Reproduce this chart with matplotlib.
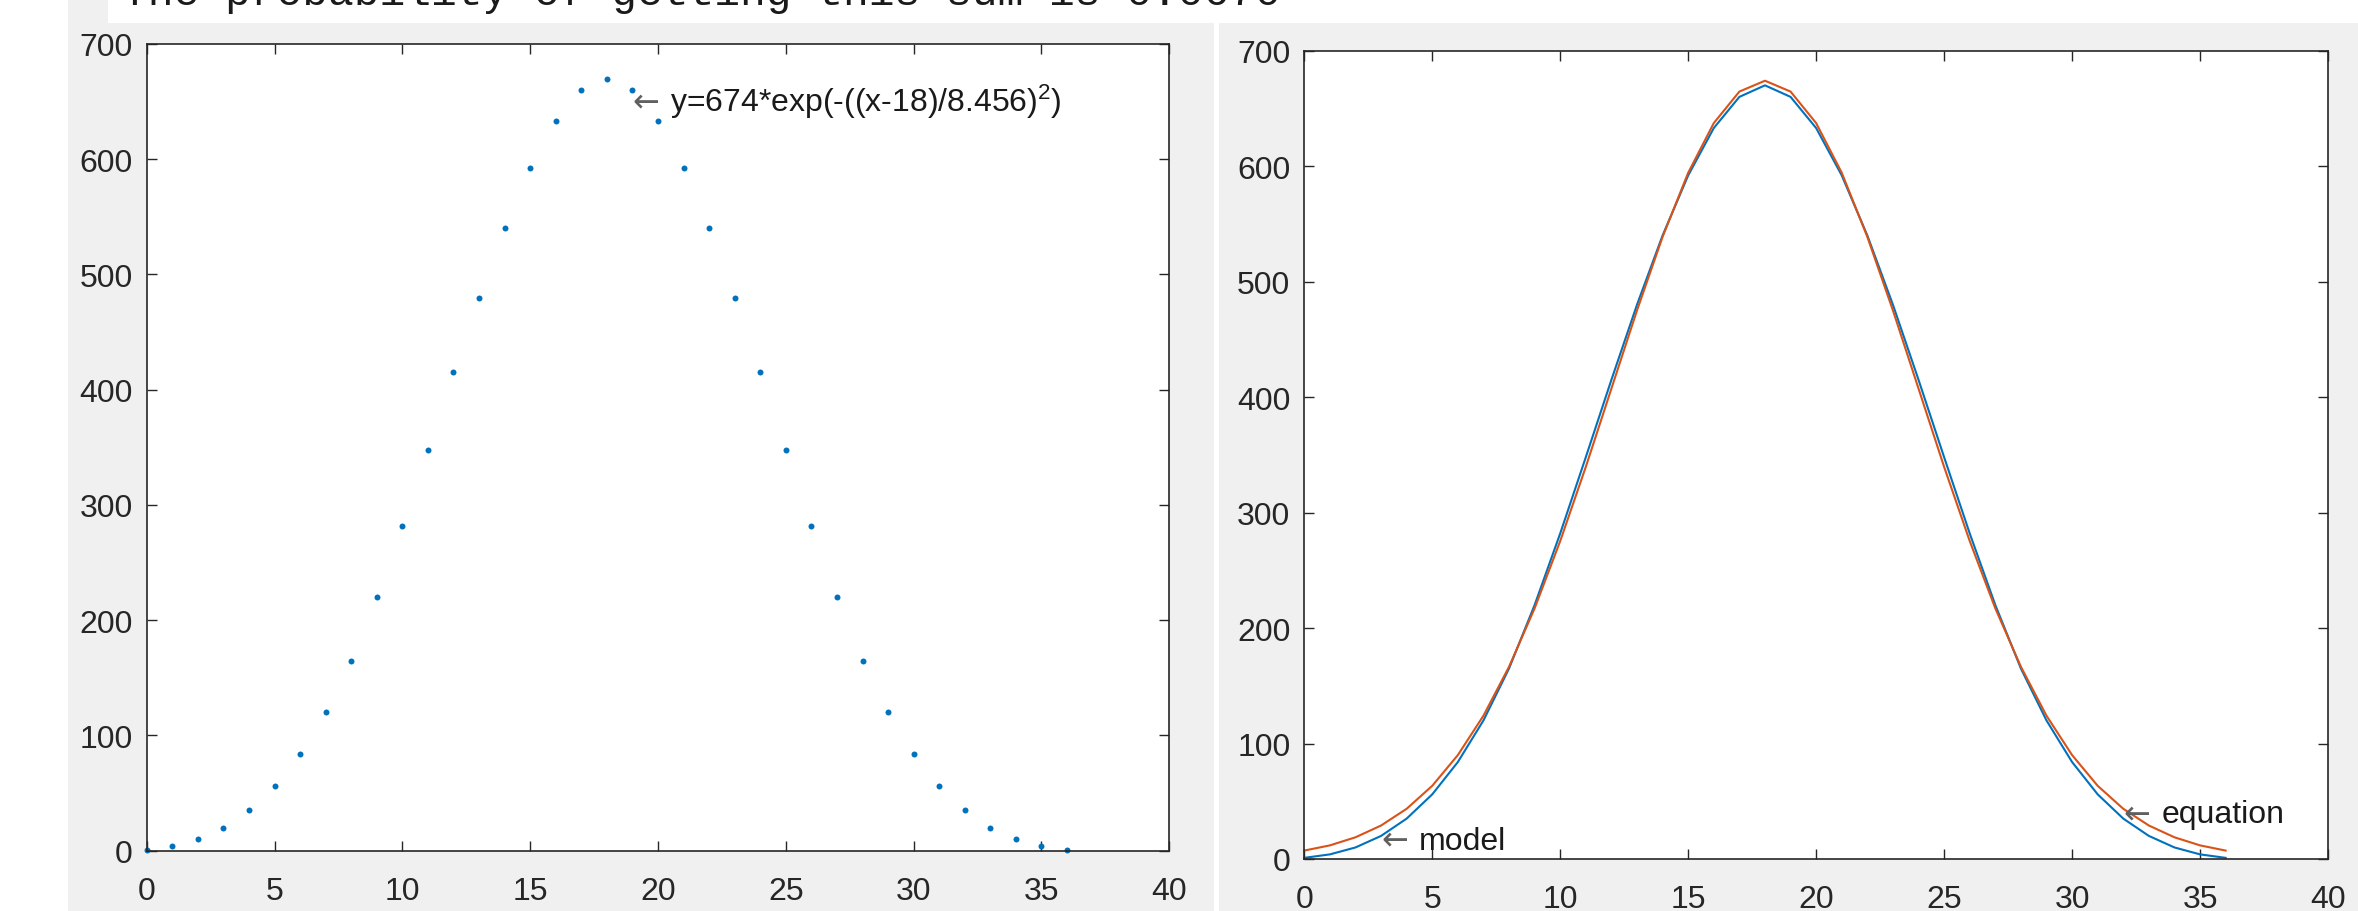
"""Two-panel MATLAB-style figure: digit-sum counts (4 digits) vs gaussian fit."""
import matplotlib

matplotlib.use("Agg")
import matplotlib.pyplot as plt
from matplotlib.patches import Rectangle

plt.rcParams["font.family"] = ["Liberation Sans", "DejaVu Sans"]
plt.rcParams["mathtext.fontset"] = "custom"
plt.rcParams["mathtext.rm"] = "Liberation Sans"

# ways to reach each sum 0..36
sums = list(range(37))
half = [1, 4, 10, 20, 35, 56, 84, 120, 165, 220, 282, 348, 415, 480, 540,
        592, 633, 660]
counts = half + [670] + half[::-1]

# fitted curve values read at the same sums (orange line)
fit_half = [7.3, 11.8, 18.8, 29.0, 43.5, 63.4, 90.0, 124.1, 166.5, 217.1,
            275.4, 339.6, 407.4, 475.1, 538.8, 594.3, 637.3, 664.6]
fit_vals = fit_half + [674.0] + fit_half[::-1]

x_ticks = list(range(0, 41, 5))
y_ticks = list(range(0, 701, 100))
fit_label = r"y=674*exp(-((x-18)/8.456)$\mathregular{^2}$)"
title_line = "The probability of getting this sum is 0.0670"

BLUE = "#0072BD"
ORANGE = "#D95319"
GRAY_BG = "#f0f0f0"
INK = "#262626"
FS = 23

W, H = 2358, 912
fig = plt.figure(figsize=(W / 100, H / 100), dpi=100, facecolor="white")


def px_rect(x0, y0, x1, y1, color):
    # rectangle given in pixel coords from top-left
    fig.patches.append(Rectangle((x0 / W, 1 - y1 / H), (x1 - x0) / W,
                                 (y1 - y0) / H, transform=fig.transFigure,
                                 facecolor=color, edgecolor="none", zorder=-5))


px_rect(68, 24, 1214, H, GRAY_BG)
px_rect(1219, 24, W, H, GRAY_BG)
px_rect(68, 0, 108, 24, GRAY_BG)

fig.text(122 / W, 1 - 5 / H, title_line, family="Liberation Mono",
         fontsize=31, va="baseline", ha="left", color="#1a1a1a")


def style_axes(ax):
    ax.set_xlim(0, 40)
    ax.set_ylim(0, 700)
    ax.set_xticks(x_ticks)
    ax.set_yticks(y_ticks)
    ax.tick_params(direction="in", length=7, width=1.0, colors=INK,
                   labelsize=FS, top=True, right=True)
    ax.tick_params(axis="x", pad=18)
    ax.tick_params(axis="y", pad=10)
    for s in ax.spines.values():
        s.set_color(INK)
        s.set_linewidth(1.2)
    ax.set_facecolor("white")


def arrow_label(ax, x, y, label):
    # MATLAB-style "\leftarrow label" text, baseline at y
    ax.text(x, y, "←", family="DejaVu Sans", fontsize=FS, color="#606060",
            va="baseline", ha="left")
    ax.annotate(label, xy=(x, y), xytext=(38, 0), textcoords="offset pixels",
                fontsize=FS, color="#1a1a1a", va="baseline", ha="left")


ax1 = fig.add_axes([146.7 / W, 1 - 851.7 / H, (1169.3 - 146.7) / W,
                    (851.7 - 45) / H])
ax1.plot(sums, counts, linestyle="none", marker="o", ms=4.3, color=BLUE,
         mec="none", clip_on=False)
style_axes(ax1)
arrow_label(ax1, 19, 642, fit_label)

ax2 = fig.add_axes([1304.3 / W, 1 - 860 / H, (2328 - 1304.3) / W,
                    (860 - 51.7) / H])
ax2.plot(sums, counts, color=BLUE, lw=1.5, clip_on=False)
ax2.plot(sums, fit_vals, color=ORANGE, lw=1.5, clip_on=False)
style_axes(ax2)
arrow_label(ax2, 3, 9, "model")
arrow_label(ax2, 32, 32, "equation")

fig.savefig("out.png", dpi=100, facecolor=fig.get_facecolor())
